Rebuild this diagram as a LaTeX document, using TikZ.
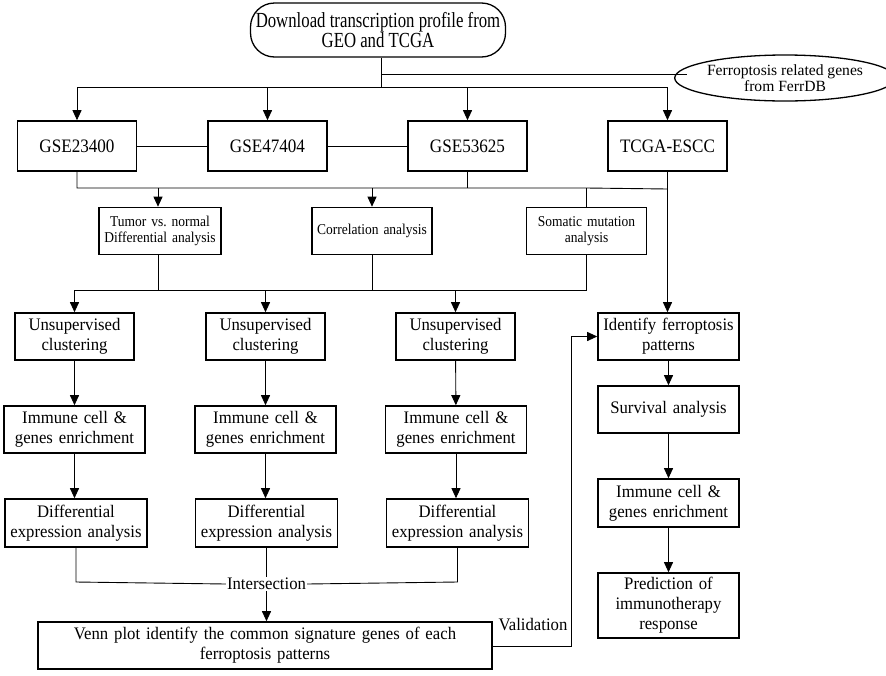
\documentclass[tikz,border=0pt]{standalone}
\usepackage{fontspec}
\setmainfont{Liberation Serif}
\newfontfamily\fTop{Liberation Serif}[FakeStretch=0.78]
\newfontfamily\fGse{Liberation Serif}[FakeStretch=0.9]
\newfontfamily\fSml{Liberation Serif}[FakeStretch=0.9]
\newfontfamily\fBig{Liberation Serif}[FakeStretch=0.95]
\usetikzlibrary{arrows.meta,shapes.geometric,calc}
\begin{document}
\begin{tikzpicture}[x=1pt,y=-1pt,
  box/.style={draw,line width=1.6pt,align=center,inner sep=1pt,text width=#1-2pt,minimum width=#1},
  big/.style={font=\fBig\fontsize{17.6}{20}\selectfont},
  small/.style={font=\fSml\fontsize{15}{15.5}\selectfont},
  gse/.style={font=\fGse\fontsize{19}{20}\selectfont},
  conn/.style={line width=0.9pt},
  arr/.style={conn,-{Triangle[length=10pt,width=9pt]}}]
\useasboundingbox (0,0) rectangle (886,675);
% top
\node[draw,line width=1.3pt,rounded corners=24pt,minimum width=255pt,minimum height=54pt,align=center,font=\fTop\fontsize{21.5}{19}\selectfont] (top) at (378,30) {Download transcription profile from\\GEO and TCGA};
\node[draw,line width=1.3pt,ellipse,minimum width=200pt,minimum height=46pt,inner sep=0pt,align=center,font=\fontsize{15.6}{16.5}\selectfont] (ell) at (785,78) {Ferroptosis related genes\\from FerrDB};
% row 1
\node[box=119pt,minimum height=50pt,gse] (g1) at (77,146) {GSE23400};
\node[box=119pt,minimum height=50pt,gse] (g2) at (267.5,146) {GSE47404};
\node[box=119pt,minimum height=50pt,gse] (g3) at (467.5,146) {GSE53625};
\node[box=119pt,minimum height=50pt,gse] (tc) at (667.5,146) {TCGA-ESCC};
% row 2
\node[box=122pt,minimum height=47pt,small] (tum) at (160,231) {Tumor vs.\ normal\\Differential analysis};
\node[box=120pt,minimum height=47pt,small] (cor) at (372,231) {Correlation analysis};
\node[box=120pt,minimum height=47pt,small] (som) at (586.5,231) {Somatic mutation\\analysis};
% row 3
\node[box=119pt,minimum height=47pt,big] (u1) at (74.5,336.5) {Unsupervised\\clustering};
\node[box=119pt,minimum height=47pt,big] (u2) at (265.5,336.5) {Unsupervised\\clustering};
\node[box=119pt,minimum height=47pt,big] (u3) at (455.5,336.5) {Unsupervised\\clustering};
% row 4
\node[box=141pt,minimum height=47pt,big] (i1) at (74.5,429.5) {Immune cell \&\\genes enrichment};
\node[box=141pt,minimum height=47pt,big] (i2) at (265.5,429.5) {Immune cell \&\\genes enrichment};
\node[box=141pt,minimum height=47pt,big] (i3) at (456,429.5) {Immune cell \&\\genes enrichment};
% row 5
\node[box=142pt,minimum height=48pt,big] (d1) at (76,523) {Differential\\expression analysis};
\node[box=142pt,minimum height=48pt,big] (d2) at (266.5,523) {Differential\\expression analysis};
\node[box=142pt,minimum height=48pt,big] (d3) at (457.5,523) {Differential\\expression analysis};
% intersection and venn
\node[big,inner sep=1pt] (inter) at (266.5,584) {Intersection};
\node[box=454pt,minimum height=47pt,big] (venn) at (265,645.5) {Venn plot identify the common signature genes of each\\ferroptosis patterns};
\node[big,inner sep=1pt] (val) at (533,625) {Validation};
% right column
\node[box=141pt,minimum height=47pt,big] (id) at (668.5,336.5) {Identify ferroptosis\\patterns};
\node[box=141pt,minimum height=47pt,big] (surv) at (668.5,409.5) {Survival analysis};
\node[box=141pt,minimum height=48pt,big] (imm) at (668.5,503) {Immune cell \&\\genes enrichment};
\node[box=141pt,minimum height=65pt,big] (pred) at (668.5,605.5) {Prediction of\\immunotherapy\\response};
% coordinates
\coordinate (j0) at (381,87);
\coordinate (j1) at (381,74);
\coordinate (e1) at ($(ell.center)+(-98,-4)$);
\coordinate (hl) at (77,87);
\coordinate (hr) at (667.5,87);
\coordinate (k1) at (77,188);
\coordinate (k3) at (467.5,188);
\coordinate (k4) at (667.5,189);
\coordinate (ka) at (158,188);
\coordinate (kb) at (372,188);
\coordinate (kc) at (586.5,188);
\coordinate (m1) at (158,290);
\coordinate (m2) at (372,290);
\coordinate (m3) at (586.5,290);
\coordinate (ma) at (74.5,290);
\coordinate (mb) at (265.5,290);
\coordinate (mc) at (455.5,290);
\coordinate (q1) at (76,582);
\coordinate (q3) at (457.5,582);
\coordinate (v1) at (571,646);
\coordinate (v2) at (571,336.5);
% connectors
\draw[conn] (j0 |- top.south) -- (j0);
\draw[conn] (j1) -- (e1);
\draw[conn] (hl) -- (hr);
\draw[arr] (hl) -- (g1.north);
\draw[arr] (g2.north |- hl) -- (g2.north);
\draw[arr] (g3.north |- hl) -- (g3.north);
\draw[arr] (hr) -- (tc.north);
\draw[conn] (g1.east) -- (g2.west);
\draw[conn] (g2.east) -- (g3.west);
\draw[conn] (g1.south) -- (k1) -- (kc) -- (k4);
\draw[conn] (g3.south) -- (k3);
\draw[arr] (tc.south) -- (id.north -| tc.south);
\draw[arr] (ka) -- (ka |- tum.north);
\draw[arr] (kb) -- (cor.north);
\draw[conn] (kc) -- (som.north);
\draw[conn] (m1 |- tum.south) -- (m1);
\draw[conn] (cor.south) -- (m2);
\draw[conn] (som.south) -- (m3);
\draw[conn] (ma) -- (m3);
\draw[arr] (ma) -- (u1.north);
\draw[arr] (mb) -- (u2.north);
\draw[arr] (mc) -- (u3.north);
\draw[arr] (u1) -- (i1);
\draw[arr] (u2) -- (i2);
\draw[arr] (u3) -- (i3);
\draw[arr] (i1) -- (d1.north -| i1.south);
\draw[arr] (i2) -- (d2.north -| i2.south);
\draw[arr] (i3) -- (d3.north -| i3.south);
\draw[conn] (d1.south) -- (q1) -- (inter.west);
\draw[conn] (d3.south) -- (q3) -- (inter.east);
\draw[conn] (d2.south) -- (inter.north);
\draw[arr] (inter.south) -- (venn.north -| inter.south);
\draw[conn] (venn.east |- v1) -- (v1) -- (v2);
\draw[arr] (v2) -- (id.west);
\draw[arr] (id) -- (surv);
\draw[arr] (surv) -- (imm);
\draw[arr] (imm) -- (pred);
\end{tikzpicture}
\end{document}
